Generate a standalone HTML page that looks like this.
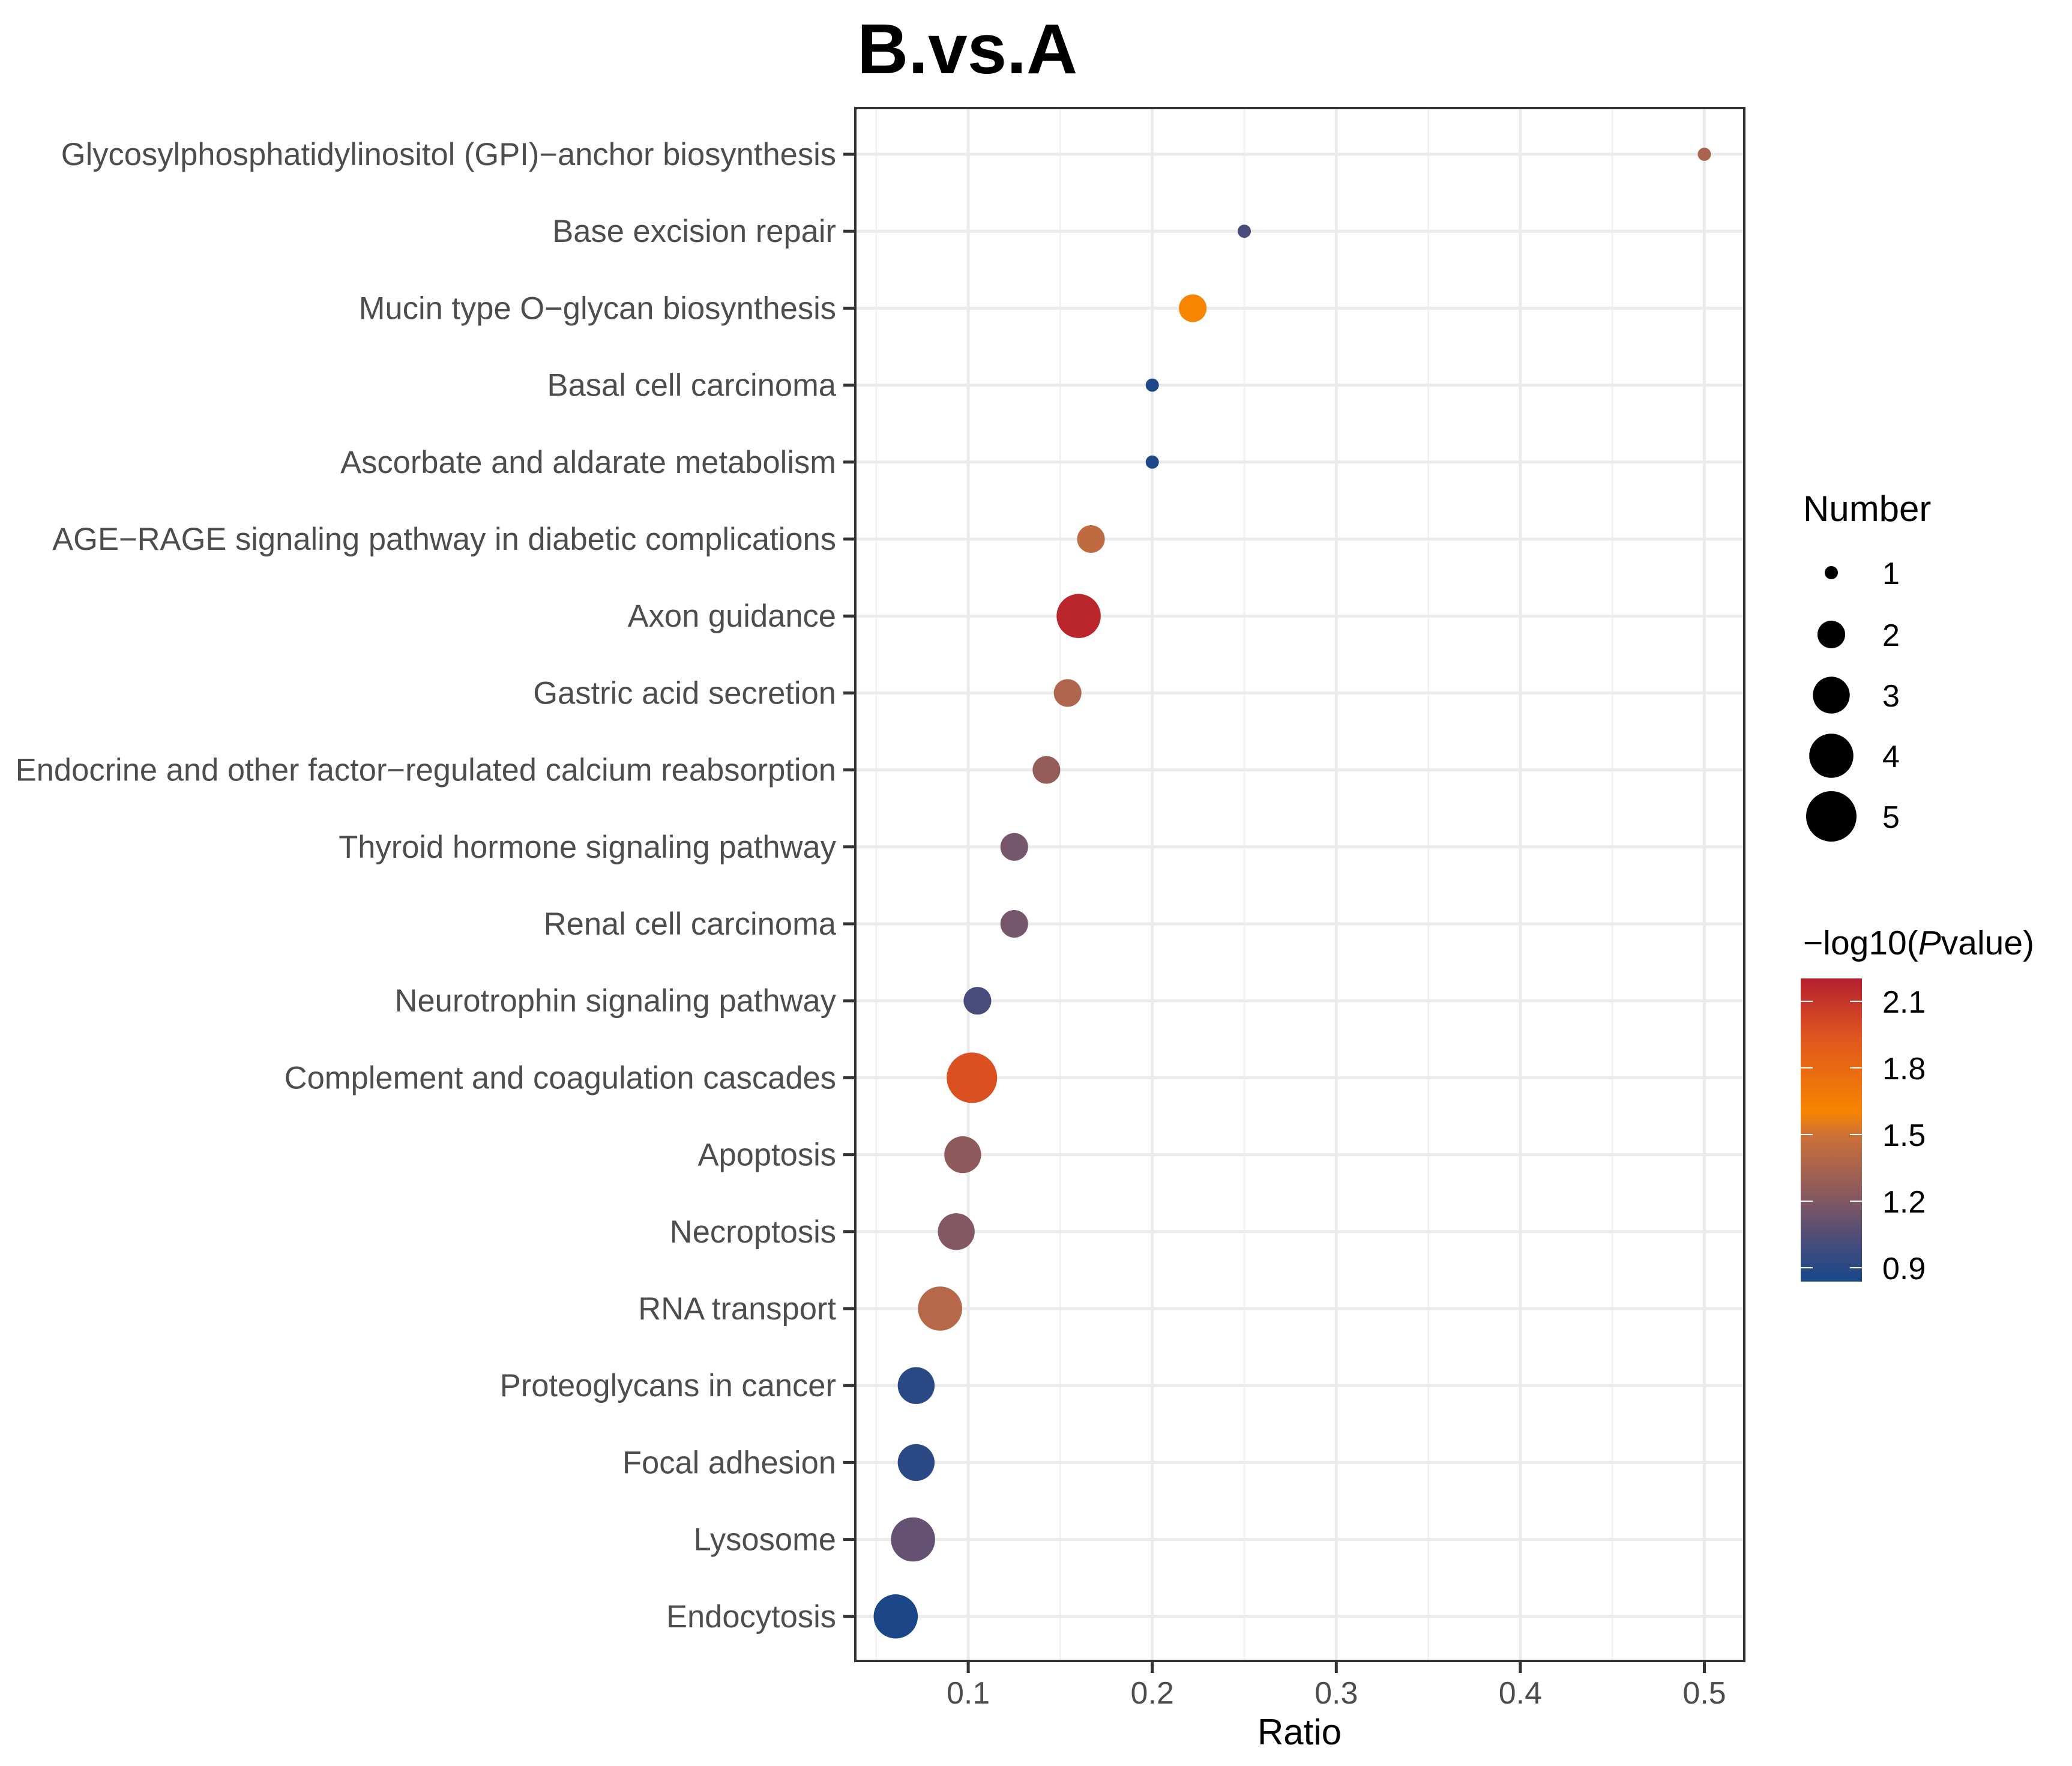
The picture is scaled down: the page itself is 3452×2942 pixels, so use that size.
<!DOCTYPE html>
<html><head><meta charset="utf-8"><style>
html,body{margin:0;padding:0;background:#fff}
svg{display:block;font-family:"Liberation Sans",Arial,sans-serif}
</style></head><body>
<svg id="chart" width="3452" height="2942" viewBox="0 0 3452 2942">
<defs>
<linearGradient id="cbar" x1="0" y1="1" x2="0" y2="0">
<stop offset="0" stop-color="#18478a"/>
<stop offset="0.135" stop-color="#4a4c7a"/>
<stop offset="0.3" stop-color="#8f5a5c"/>
<stop offset="0.48" stop-color="#cc7038"/>
<stop offset="0.56" stop-color="#f78500"/>
<stop offset="0.8" stop-color="#e0571f"/>
<stop offset="1" stop-color="#b51f2e"/>
</linearGradient>
</defs>
<text x="1428" y="122" font-size="118" font-weight="bold" fill="#000">B.vs.A</text>
<g id="grid"></g>
<g id="ylabels"></g>
<g id="xaxis"></g>
<g id="points"></g>
<rect x="1425" y="180" width="1481" height="2587" fill="none" stroke="#333" stroke-width="4"/>
<text x="2165" y="2906" font-size="60" text-anchor="middle" fill="#000">Ratio</text>
<g>
<text x="3004" y="868" font-size="60" fill="#000">Number</text>
<g id="sizeLegend"></g>
</g>
<g>
<text x="3004" y="1590" font-size="57" fill="#000">−log10(<tspan font-style="italic">P</tspan>value)</text>
<rect x="3000" y="1630" width="102" height="505" fill="url(#cbar)"/>
<g id="cbarTicks"></g>
</g>
</svg>
<script>
const categories = ["Glycosylphosphatidylinositol (GPI)\u2212anchor biosynthesis","Base excision repair","Mucin type O\u2212glycan biosynthesis","Basal cell carcinoma","Ascorbate and aldarate metabolism","AGE\u2212RAGE signaling pathway in diabetic complications","Axon guidance","Gastric acid secretion","Endocrine and other factor\u2212regulated calcium reabsorption","Thyroid hormone signaling pathway","Renal cell carcinoma","Neurotrophin signaling pathway","Complement and coagulation cascades","Apoptosis","Necroptosis","RNA transport","Proteoglycans in cancer","Focal adhesion","Lysosome","Endocytosis"];
const ratios = [0.5,0.25,0.222,0.2,0.2,0.1667,0.16,0.154,0.1425,0.125,0.125,0.105,0.102,0.097,0.0935,0.0847,0.0717,0.0717,0.070,0.0606];
const counts = [1,1,2,1,1,2,4,2,2,2,2,2,5,3,3,4,3,3,4,4];
const pvals = [1.28,0.99,1.5,0.86,0.86,1.35,2.15,1.3,1.22,1.13,1.13,0.99,1.85,1.2,1.17,1.32,0.9,0.9,1.08,0.85];
const xTicks = [0.1,0.2,0.3,0.4,0.5];
const xMinor = [0.05,0.15,0.25,0.35,0.45];
const sizeLegendValues = [1,2,3,4,5];
const colorTicks = [0.9,1.2,1.5,1.8,2.1];

const NS="http://www.w3.org/2000/svg";
function mk(tag,attrs,parent){const e=document.createElementNS(NS,tag);for(const k in attrs)e.setAttribute(k,attrs[k]);parent.appendChild(e);return e;}
const xScale = v => 1306.5 + v*3066;
const yScale = i => 257 + i*128.2;
const rScale = n => Math.sqrt(121 + (1764-121)*(n-1)/4);
const cStops=[[0.84,[24,71,138]],[1.0,[74,76,122]],[1.1,[108,84,112]],[1.2,[143,90,92]],[1.3,[176,102,76]],[1.4,[204,112,56]],[1.5,[247,133,0]],[1.8,[224,87,31]],[2.2,[181,31,46]]];
function colorScale(v){
  if(v<=cStops[0][0])return `rgb(${cStops[0][1]})`;
  for(let i=1;i<cStops.length;i++){if(v<=cStops[i][0]){const a=cStops[i-1],b=cStops[i];const t=(v-a[0])/(b[0]-a[0]);return `rgb(${a[1].map((c,j)=>Math.round(c+(b[1][j]-c)*t)).join(',')})`;}}
  return `rgb(${cStops[cStops.length-1][1]})`;
}
const grid=document.getElementById('grid');
xMinor.forEach(v=>{const l=mk('line',{x1:xScale(v),x2:xScale(v),y1:180,y2:2767,stroke:'#f2f2f2','stroke-width':3},grid);

});
xTicks.forEach(v=>{const l=mk('line',{x1:xScale(v),x2:xScale(v),y1:180,y2:2767,stroke:'#ebebeb','stroke-width':5},grid);

});
categories.forEach((c,i)=>{const l=mk('line',{x1:1425,x2:2906,y1:yScale(i),y2:yScale(i),stroke:'#ebebeb','stroke-width':5},grid);

});
const yl=document.getElementById('ylabels');
categories.forEach((c,i)=>{
  const t=mk('text',{x:1393,y:yScale(i)+18,'font-size':52.5,'text-anchor':'end',fill:'#4d4d4d'},yl);t.textContent=c;
  
  
  const tk=mk('line',{x1:1405,x2:1425,y1:yScale(i),y2:yScale(i),stroke:'#333','stroke-width':5},yl);
  
  
});
const xa=document.getElementById('xaxis');
xTicks.forEach(v=>{
  const tk=mk('line',{x1:xScale(v),x2:xScale(v),y1:2767,y2:2787,stroke:'#333','stroke-width':5},xa);
  
  
  const t=mk('text',{x:xScale(v),y:2838,'font-size':52,'text-anchor':'middle',fill:'#4d4d4d'},xa);t.textContent=v;
  
  
});
const pts=document.getElementById('points');
categories.forEach((c,i)=>{
  const p=mk('circle',{cx:xScale(ratios[i]),cy:yScale(i),r:rScale(counts[i]),fill:colorScale(pvals[i])},pts);
  
  
});
const sl=document.getElementById('sizeLegend');
const sy=[954,1057,1158,1259,1360];
sizeLegendValues.forEach((n,i)=>{
  const p=mk('circle',{cx:3051,cy:sy[i],r:rScale(n),fill:'#000'},sl);
  
  
  const t=mk('text',{x:3136,y:sy[i]+19,'font-size':52,fill:'#000'},sl);t.textContent=n;
  
  
});
const ct=document.getElementById('cbarTicks');
const cY=v=>2112-(v-0.9)*370;
colorTicks.forEach(v=>{
  const a=mk('line',{x1:3000,x2:3020,y1:cY(v),y2:cY(v),stroke:'#fff','stroke-width':2},ct);
  
  
  const b=mk('line',{x1:3082,x2:3102,y1:cY(v),y2:cY(v),stroke:'#fff','stroke-width':2},ct);
  
  
  const t=mk('text',{x:3136,y:cY(v)+19,'font-size':52,fill:'#000'},ct);t.textContent=v.toFixed(1);
  
  
});
</script>
</body></html>
